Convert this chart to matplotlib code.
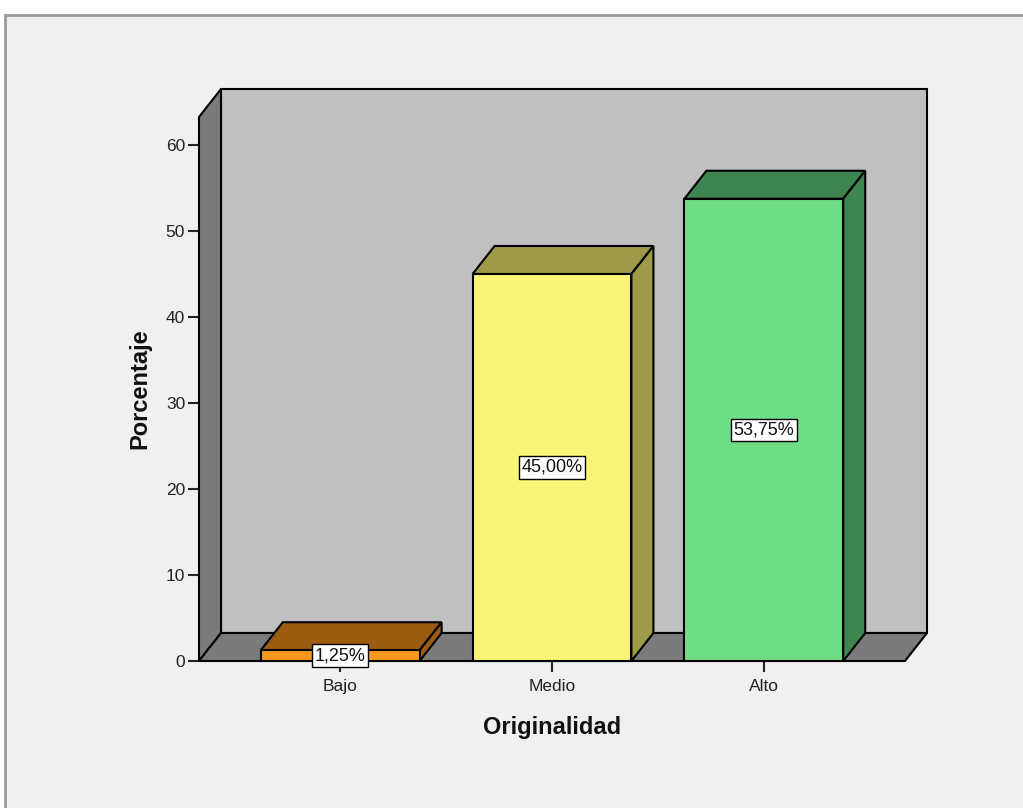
import matplotlib
matplotlib.use("Agg")
import matplotlib.pyplot as plt
from matplotlib.patches import Polygon, Rectangle

plt.rcParams['font.family'] = ['Liberation Sans', 'DejaVu Sans']

categories = ["Bajo", "Medio", "Alto"]
values = [1.25, 45.00, 53.75]
value_labels = ["1,25%", "45,00%", "53,75%"]
yticks = [0, 10, 20, 30, 40, 50, 60]
front_colors = ["#F8991D", "#FAF577", "#6FDC86"]
dark_colors = ["#9C5C12", "#9E9A47", "#3F8551"]

W, H = 1023, 808
fig = plt.figure(figsize=(W / 100, H / 100), dpi=100)
fig.patch.set_facecolor("white")

# outer frame
fig.patches.append(Rectangle((5 / W, -0.01), 1.02, 1 - 15 / H + 0.01, transform=fig.transFigure,
                             facecolor="#F0F0F0", edgecolor="#9A9A9A", linewidth=2, zorder=-5))

left_px, right_px, bottom_px, top_px = 199, 905, 661, 117
ax = fig.add_axes([left_px / W, 1 - bottom_px / H, (right_px - left_px) / W, (bottom_px - top_px) / H])
ax.set_zorder(1)
ax.patch.set_alpha(0)
x0, x1 = -2 / 3, 8 / 3
ytop = (bottom_px - top_px) / 8.6
ax.set_xlim(x0, x1)
ax.set_ylim(0, ytop)
for s in ax.spines.values():
    s.set_visible(False)

DX = 22 / ((right_px - left_px) / (x1 - x0))
DY = 28 / 8.6
lw = 1.5

def poly(pts, fc, z):
    ax.add_patch(Polygon(pts, closed=True, facecolor=fc, edgecolor="black", linewidth=lw,
                         clip_on=False, zorder=z, joinstyle="miter"))

# back wall, left wall, floor
poly([(x0 + DX, DY), (x1 + DX, DY), (x1 + DX, ytop + DY), (x0 + DX, ytop + DY)], "#C0C0C0", 1)
poly([(x0, 0), (x0 + DX, DY), (x0 + DX, ytop + DY), (x0, ytop)], "#7B7B7B", 2)
poly([(x0, 0), (x1, 0), (x1 + DX, DY), (x0 + DX, DY)], "#7B7B7B", 2)

bw = 0.75
for i, (v, fc, dc, lab) in enumerate(zip(values, front_colors, dark_colors, value_labels)):
    l, r = i - bw / 2, i + bw / 2
    poly([(l, v), (r, v), (r + DX, v + DY), (l + DX, v + DY)], dc, 3)
    poly([(r, 0), (r + DX, DY), (r + DX, v + DY), (r, v)], dc, 3)
    poly([(l, 0), (r, 0), (r, v), (l, v)], fc, 4)
    ax.text(i, v / 2, lab, ha="center", va="center", fontsize=13, zorder=6, color="#111111",
            bbox=dict(boxstyle="square,pad=0.15", facecolor="white", edgecolor="black", linewidth=1))

ax.set_xticks(range(len(categories)))
ax.set_xticklabels(categories, fontsize=12.5, color="#222222")
ax.set_yticks(yticks)
ax.set_yticklabels([str(t) for t in yticks], fontsize=12.5, color="#222222")
ax.tick_params(axis="both", direction="out", length=8, width=1.5, color="#222222", pad=2)
ax.tick_params(axis="x", length=8, pad=5)
ax.set_xlabel("Originalidad", fontsize=17, fontweight="bold", labelpad=16, color="#111111")
ax.set_ylabel("Porcentaje", fontsize=17, fontweight="bold", labelpad=10, color="#111111")

fig.savefig("out.png", dpi=100, facecolor=fig.get_facecolor())
